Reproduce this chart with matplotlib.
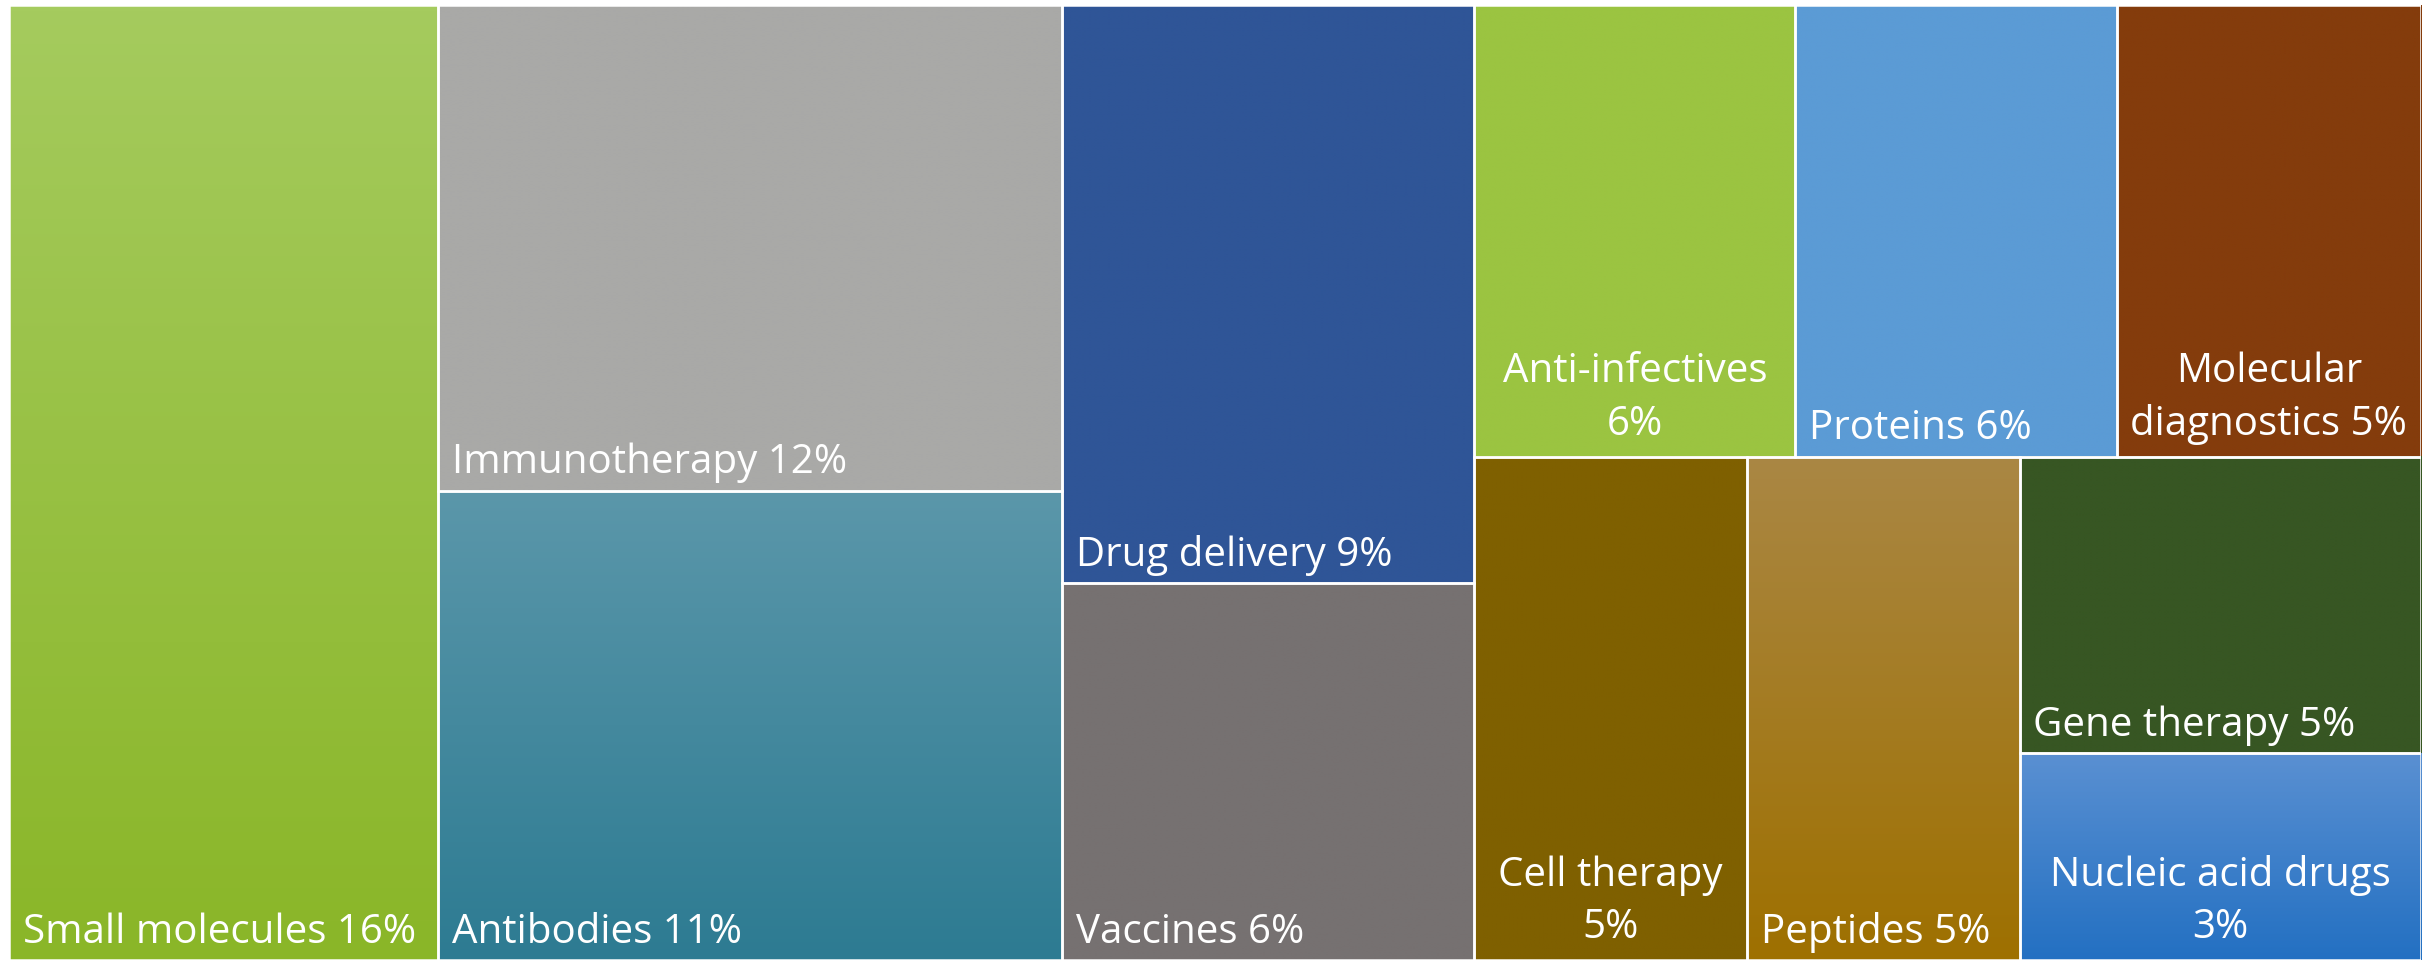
import numpy as np
import matplotlib
matplotlib.use('Agg')
import matplotlib.pyplot as plt
from matplotlib.colors import LinearSegmentedColormap
from matplotlib.patches import Rectangle

# shares of the treemap (labels show them rounded)
categories = ['Small molecules', 'Immunotherapy', 'Antibodies', 'Drug delivery',
              'Vaccines', 'Anti-infectives', 'Proteins', 'Molecular diagnostics',
              'Cell therapy', 'Peptides', 'Gene therapy', 'Nucleic acid drugs']
shares = [15.8, 11.7, 11.3, 9.2, 6.0, 5.6, 5.6, 5.3, 5.3, 5.3, 4.6, 3.2]

# colour at top and bottom of each tile (same twice = flat fill)
top_colors = ['#A5CB5E', '#A9A9A7', '#5B97AA', '#2F5597', '#767171', '#9BC441',
              '#5B9BD5', '#843C0C', '#7F6000', '#AA8744', '#375623', '#5A90D2']
bottom_colors = ['#8AB628', '#A9A9A7', '#2D7B92', '#2F5597', '#767171', '#9BC441',
                 '#5B9BD5', '#843C0C', '#7F6000', '#9E7000', '#375623', '#2370C2']

# how the tiles are nested: 'h' = side by side, 'v' = stacked
layout = ('h', [0, ('v', [1, 2]), ('v', [3, 4]),
                ('v', [('h', [5, 6, 7]), ('h', [8, 9, ('v', [10, 11])])])])

FONT = 'Open Sans'
FS = 29
PAD_X = 10      # points, label inset
PAD_Y = 12.5    # points
WRAP_MARGIN = 5  # pixels each side before a label wraps


def total(node):
    if isinstance(node, int):
        return shares[node]
    return sum(total(k) for k in node[1])


def split(node, x, y, w, h, out):
    if isinstance(node, int):
        out[node] = (x, y, w, h)
        return
    kind, kids = node
    s = total(node)
    for k in kids:
        f = total(k) / s
        if kind == 'h':
            split(k, x, y, w * f, h, out)
            x += w * f
        else:
            split(k, x, y, w, h * f, out)
            y += h * f


rects = {}
split(layout, 0.0, 0.0, 1.0, 1.0, rects)

fig = plt.figure(figsize=(24.3, 9.6), dpi=100)
ax = fig.add_axes([9 / 2430, 0, 2412 / 2430, 955 / 960])
ax.set_xlim(0, 1)
ax.set_ylim(1, 0)
ax.axis('off')

renderer = fig.canvas.get_renderer()
ax_w = ax.get_position().width * fig.get_figwidth() * fig.dpi


def text_width(s):
    t = ax.text(0, 0, s, fontsize=FS, family=FONT)
    w = t.get_window_extent(renderer).width
    t.remove()
    return w


def wrap(s, avail):
    words = s.split(' ')
    lines = []
    cur = words[0]
    for wd in words[1:]:
        if text_width(cur + ' ' + wd) <= avail:
            cur = cur + ' ' + wd
        else:
            lines.append(cur)
            cur = wd
    lines.append(cur)
    return lines


for i, name in enumerate(categories):
    x, y, w, h = rects[i]
    cmap = LinearSegmentedColormap.from_list('g%d' % i, [top_colors[i], bottom_colors[i]])
    grad = np.linspace(0, 1, 256).reshape(-1, 1)
    ax.imshow(grad, cmap=cmap, extent=(x, x + w, y + h, y), aspect='auto',
              interpolation='bilinear', zorder=1)
    ax.add_patch(Rectangle((x, y), w, h, fill=False, edgecolor='white',
                           linewidth=1.8, zorder=2))

    label = '%s %d%%' % (name, round(shares[i]))
    avail = w * ax_w - 2 * WRAP_MARGIN
    lines = wrap(label, avail)
    if len(lines) == 1:
        ax.annotate(label, (x, y + h), xytext=(PAD_X, PAD_Y), textcoords='offset points',
                    ha='left', va='baseline', color='white', fontsize=FS, family=FONT,
                    zorder=3)
    else:
        ax.annotate('\n'.join(lines), (x + w / 2, y + h), xytext=(0, PAD_Y + 3),
                    textcoords='offset points', ha='center', va='baseline',
                    multialignment='center', linespacing=1.4, color='white',
                    fontsize=FS, family=FONT, zorder=3)

fig.savefig('out.png', dpi=100, facecolor='white')
